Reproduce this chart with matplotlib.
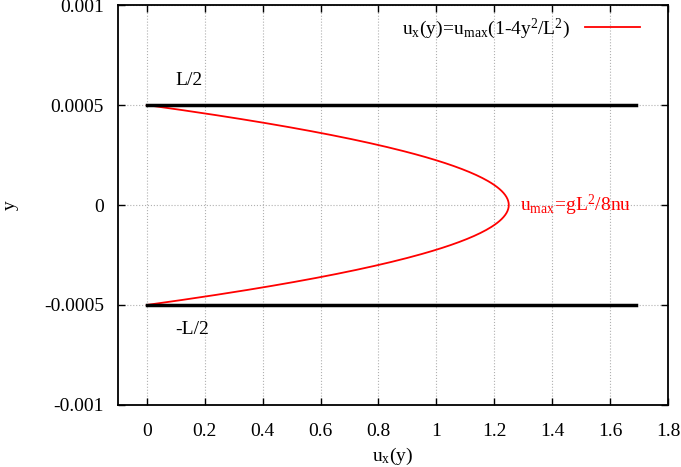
import numpy as np
import matplotlib.pyplot as plt

plt.rcParams['font.family'] = ['Liberation Serif', 'DejaVu Serif']
plt.rcParams['mathtext.fontset'] = 'custom'
plt.rcParams['mathtext.rm'] = 'Liberation Serif'
plt.rcParams['mathtext.it'] = 'Liberation Serif'

# channel parameters
u_max = 1.25
L = 0.001
wall_x = [0, 1.69]
wall_y = [L / 2, -L / 2]

xticks = [0, 0.2, 0.4, 0.6, 0.8, 1, 1.2, 1.4, 1.6, 1.8]
yticks = [-0.001, -0.0005, 0, 0.0005, 0.001]

y = np.linspace(-L / 2, L / 2, 201)
ux = u_max * (1 - 4 * y**2 / L**2)

fig = plt.figure(figsize=(6.81, 4.67), dpi=100)
ax = fig.add_axes([0.173, 0.133, 0.808, 0.856])

ax.plot(ux, y, color='red', lw=1.3,
        label=r'$\mathrm{u_x(y)\!=\!u_{max}(1\text{-}4y^2/L^2)}$')
for wy in wall_y:
    ax.plot(wall_x, [wy, wy], color='black', lw=2.5)

ax.text(0.1, 0.00058, 'L/2', fontsize=14, ha='left', va='bottom')
ax.text(0.1, -0.00058, '-L/2', fontsize=14, ha='left', va='top')
ax.text(1.29, 0, r'$\mathrm{u_{max}\!=\!gL^2/8nu}$', color='red',
        fontsize=14, ha='left', va='center')

ax.set_xlim(-0.1, 1.8)
ax.set_ylim(-0.001, 0.001)
ax.set_xticks(xticks)
ax.set_xticklabels([('%g' % v) for v in xticks])
ax.set_yticks(yticks)
ax.set_yticklabels([('%g' % v) for v in yticks])
ax.tick_params(direction='in', top=True, right=True, labelsize=14,
               length=5, width=1)
ax.tick_params(axis='x', pad=13)
ax.tick_params(axis='y', pad=10)
ax.grid(True, color='#b0b0b0', linestyle=':', lw=0.8)
for s in ax.spines.values():
    s.set_linewidth(1.3)

ax.set_xlabel(r'$\mathrm{u_x(y)}$', fontsize=14)
ax.xaxis.set_label_coords(0.5, -0.103)
ax.set_ylabel('y', fontsize=14)
ax.yaxis.set_label_coords(-0.18, 0.5)

ax.legend(loc='upper right', frameon=False, markerfirst=False,
          fontsize=14, handlelength=2.8, borderaxespad=0.2,
          bbox_to_anchor=(0.97, 1.0))

fig.savefig('out.png', dpi=100)
